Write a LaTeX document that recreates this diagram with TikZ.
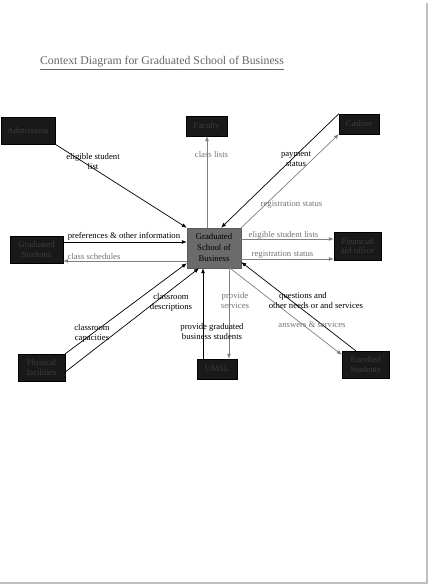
\documentclass[tikz,border=0pt]{standalone}
\usepackage{fontspec}
\setmainfont{Liberation Serif}
\usetikzlibrary{arrows.meta,calc}
\begin{document}
\begin{tikzpicture}[x=1pt,y=-1pt,
 ext/.style={draw=black,fill=black!90,text=black!76,inner sep=0pt,align=center,font=\fontsize{8.7}{9.5}\selectfont},
 core/.style={draw=black!65,fill=black!58,text=black,inner sep=0pt,align=center,font=\fontsize{8.7}{11}\selectfont},
 blk/.style={draw=black,line width=0.7pt,-{Latex[length=5pt,width=4pt]}},
 gry/.style={draw=black!50,line width=0.7pt,-{Latex[length=5pt,width=4pt]}},
 lblk/.style={text=black,align=center,inner sep=0pt,font=\fontsize{8.7}{10}\selectfont},
 lgry/.style={lblk,text=black!55},
 edge/.style={draw=black!25,line width=1.2pt}]
\useasboundingbox (0,0) rectangle (432,585);
\draw[edge] (427,3) -- (427,583) -- (0,583);

\node[text=black!60,inner sep=0pt,font=\fontsize{11.8}{13}\selectfont] (title) at (162,63) {\underline{Context Diagram for Graduated School of Business}};

% nodes
\node[ext,minimum width=54pt,minimum height=27pt] (adm) at (28,130.5) {Admissions};
\node[ext,minimum width=41pt,minimum height=20pt] (fac) at (206.5,126) {Faculty};
\node[ext,minimum width=40pt,minimum height=20pt] (cash) at (359,124) {Cashier};
\node[core,minimum width=54pt,minimum height=40pt] (gsb) at (214,248) {Graduated\\School of\\Business};
\node[ext,minimum width=53pt,minimum height=27pt] (gs) at (36.5,249.5) {Graduated\\Students};
\node[ext,minimum width=47pt,minimum height=28pt] (fa) at (357.5,246) {Financial\\aid office};
\node[ext,minimum width=47pt,minimum height=27pt] (pf) at (41.5,367.5) {Physical\\facilities};
\node[ext,minimum width=40pt,minimum height=20pt] (umsl) at (217,369) {UMSL};
\node[ext,minimum width=47pt,minimum height=27pt] (es) at (365.5,364.5) {Enrolled\\Students};

% connectors
\draw[blk] (adm.south east) -- (gsb.north west);
\draw[gry] ($(gsb.north)+(-7,0)$) -- ($(fac.south)+(0.5,0)$);
\draw[blk] (cash.north west) -- ($(gsb.north)+(7,0)$);
\draw[gry] (gsb.north east) -- (cash.south west);
\draw[blk] ($(gs.east)+(0,-7.5)$) -- ($(gsb.west)+(0,-6)$);
\draw[gry] ($(gsb.west)+(0,13)$) -- ($(gs.east)+(0,11.5)$);
\draw[gry] ($(gsb.east)+(0,-9)$) -- ($(fa.west)+(0,-7)$);
\draw[gry] ($(gsb.east)+(0,11)$) -- ($(fa.west)+(0,13)$);
\draw[blk] (pf.north east) -- ($(gsb.south west)+(0,-5)$);
\draw[blk] ($(pf.east)+(0,4.5)$) -- ($(gsb.south)+(-15,0)$);
\draw[blk] ($(umsl.north)+(-14,0)$) -- ($(gsb.south)+(-11,0)$);
\draw[gry] ($(gsb.south)+(15,0)$) -- ($(umsl.north)+(12,0)$);
\draw[blk] ($(es.north west)+(14,0)$) -- ($(gsb.east)+(0,14)$);
\draw[gry] ($(gsb.south)+(16,0)$) -- ($(es.north west)+(0,4)$);

% labels
\node[lblk] (l1) at (93,162) {eligible student\\list};
\node[lgry] (l2) at (211.5,155) {class lists};
\node[lblk] (l3) at (296,159) {payment\\status};
\node[lgry] (l4) at (291.5,205) {registration status};
\node[lblk] (l5) at (124,236) {preferences \& other information};
\node[lgry] (l6) at (94,257) {class schedules};
\node[lgry] (l7) at (283.5,235) {eligible student lists};
\node[lgry] (l8) at (282.5,255) {registration status};
\node[lblk] (l9) at (92,333) {classroom\\capacities};
\node[lblk] (l10) at (171,302) {classroom\\descriptions};
\node[lblk] (l11) at (212,332) {provide graduated\\business students};
\node[lgry] (l12) at (235,301) {provide\\services};
\node[lblk] (l13) at (303,296) {questions and};
\node[lblk] (l14) at (316,305.5) {other needs or and services};
\node[lgry] (l15) at (312,325) {answers \& services};
\end{tikzpicture}
\end{document}
